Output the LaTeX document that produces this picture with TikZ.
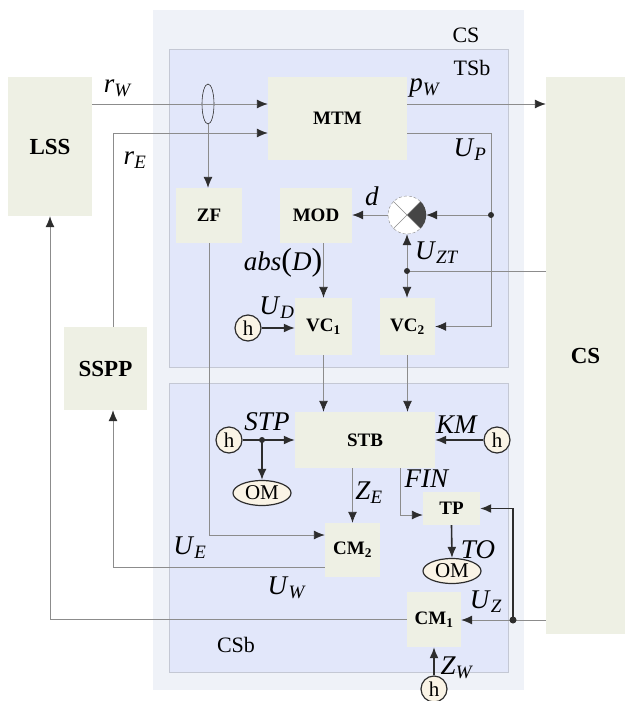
\documentclass[tikz,border=0pt]{standalone}
\usepackage{fontspec}
\setmainfont{Liberation Serif}
\usetikzlibrary{arrows.meta,shapes.geometric}
\definecolor{outbg}{RGB}{239,242,248}
\definecolor{regbg}{RGB}{226,231,250}
\definecolor{regln}{RGB}{196,200,212}
\definecolor{boxfill}{RGB}{238,240,228}
\definecolor{lngray}{RGB}{140,140,140}
\definecolor{lndark}{RGB}{45,45,45}
\definecolor{hfill}{RGB}{250,244,230}
\definecolor{quad}{RGB}{70,70,70}
\newcommand{\sg}[2]{\textit{#1}\textsubscript{\textit{#2}}}

\begin{document}
\begin{tikzpicture}[x=1pt,y=-1pt]
\tikzset{
  RG/.style={draw=regln,fill=regbg,line width=0.6pt},
  BX/.style={fill=boxfill,rectangle,inner sep=0pt,font=\fontsize{19}{22}\selectfont\bfseries},
  BB/.style={BX,font=\fontsize{23}{26}\selectfont\bfseries},
  HC/.style={draw=lndark,fill=hfill,circle,line width=1.2pt,minimum size=26pt,inner sep=0pt,font=\fontsize{21}{22}\selectfont},
  OM/.style={draw=lndark,fill=hfill,ellipse,line width=1.2pt,minimum width=58pt,minimum height=25pt,inner sep=0pt,font=\fontsize{21}{22}\selectfont},
  FL/.style={-{Latex[length=11pt,width=9pt,color=lndark]},lngray,line width=0.9pt},
  FD/.style={-{Latex[length=11pt,width=9pt]},lndark,line width=1.6pt},
  LN/.style={lngray,line width=0.9pt},
  lb/.style={font=\fontsize{27}{30}\selectfont,inner sep=0pt},
  rl/.style={font=\fontsize{22}{25}\selectfont,inner sep=0pt},
  dot/.style={fill=lndark},
}
\useasboundingbox (0,0) rectangle (625,701);

\fill[outbg] (153,10) rectangle (524,690);
\draw[RG] (169,49) rectangle (508,367);
\draw[RG] (169,383) rectangle (508,672);

\node[rl](lcs)  at (466,35){CS};
\node[rl](ltsb) at (472,68){TSb};
\node[rl](lcsb) at (236,645){CSb};

\node[BB,minimum width=84pt,minimum height=139pt](lss)  at (50,146.5){LSS};
\node[BB,minimum width=83pt,minimum height=83pt](sspp)  at (105.5,368.5){SSPP};
\node[BB,minimum width=79pt,minimum height=557pt](csr)  at (585.5,355.5){CS};
\node[BX,minimum width=139pt,minimum height=83pt](mtm)  at (337.5,118.5){MTM};
\node[BX,minimum width=66pt,minimum height=55pt](zf)    at (209,215.5){ZF};
\node[BX,minimum width=72pt,minimum height=55pt](mod)   at (316,215.5){MOD};
\node[BX,minimum width=57pt,minimum height=57pt](vc1)   at (323.5,326.5){VC\textsubscript{1}};
\node[BX,minimum width=55pt,minimum height=57pt](vc2)   at (407.5,326.5){VC\textsubscript{2}};
\node[BX,minimum width=140pt,minimum height=56pt](stb)  at (365,440){STB};
\node[BX,minimum width=55pt,minimum height=54pt](cm2)   at (352.5,550){CM\textsubscript{2}};
\node[BX,minimum width=57pt,minimum height=33pt](tp)    at (451.5,508.5){TP};
\node[BX,minimum width=54pt,minimum height=55pt](cm1)   at (434,619.5){CM\textsubscript{1}};

\node[HC](hd)   at (248,328){h};
\node[HC](hstp) at (229,440){h};
\node[HC](hkm)  at (497,440){h};
\node[HC](hzw)  at (434,689){h};
\node[OM](om1)  at (262,493){OM};
\node[OM](om2)  at (452,571){OM};

\node[circle,draw=lngray,densely dashed,fill=white,minimum size=38pt,inner sep=0pt](sum) at (407,215){};
\fill[quad] (sum.center)--(sum.north east) arc[start angle=45,end angle=-45,radius=19pt]--cycle;
\draw[lngray,line width=0.6pt] (sum.north west)--(sum.south east) (sum.north east)--(sum.south west);

\coordinate(rec) at (113,133);
\coordinate(up)  at (491,133);
\coordinate(dj)  at (491,215);
\coordinate(zt)  at (407,271);
\coordinate(ue)  at (209,535);
\coordinate(sp)  at (262,440);
\coordinate(fn)  at (400,515);
\coordinate(uz)  at (513,620);
\coordinate(uw)  at (113,567);

\node[draw=lndark,ellipse,line width=0.6pt,minimum width=12pt,minimum height=40pt,inner sep=0pt](ring) at (208,104){};

\draw[FL](lss.east |- ring)--(mtm.west |- ring);
\draw[FL](sspp.north -| rec)--(rec)--(rec -| mtm.west);
\draw[FL](ring.south)--(ring.south |- zf.north);
\draw[FL](mtm.east |- ring)--(csr.west |- ring);
\draw[FL](mtm.east |- up)--(up)--(up |- vc2.east)--(vc2.east);
\draw[FL](dj)--(sum.east);
\draw[FL](sum.west)--(sum.west -| mod.east);
\draw[LN](csr.west |- zt)--(zt);
\draw[FL](zt)--(sum.south);
\draw[FL](zt)--(zt |- vc2.north);
\draw[FL](mod.south -| vc1.north)--(vc1.north);
\draw[FD](hd.east)--(hd.east -| vc1.west);
\draw[FL](vc1.south)--(vc1.south |- stb.north);
\draw[FL](vc2.south)--(vc2.south |- stb.north);
\draw[FL](zf.south)--(zf.south |- ue)--(ue -| cm2.west);
\draw[FD](hstp.east)--(hstp.east -| stb.west);
\draw[FD](sp)--(om1.north);
\draw[FD](hkm.west)--(hkm.west -| stb.east);
\draw[FL](stb.south -| cm2.north)--(cm2.north);
\draw[FL](stb.south -| fn)--(fn)--(fn -| tp.west);
\draw[FD](tp.south)--(om2.north);
\draw[FL](csr.west |- uz)--(cm1.east |- uz);
\draw[FD](uz)--(uz |- tp.east)--(tp.east);
\draw[FL](cm1.west)--(cm1.west -| lss.south)--(lss.south);
\draw[FL](cm2.west |- uw)--(uw)--(uw |- sspp.south);
\draw[FD](hzw.north)--(cm1.south);

\fill[dot] (dj) circle (3pt) (zt) circle (3pt) (sp) circle (3pt) (uz) circle (3.5pt);

\node[lb](lrw)  at (118,88){\sg{r}{W}};
\node[lb](lre)  at (135,160){\sg{r}{E}};
\node[lb](lpw)  at (425,88){\sg{p}{W}};
\node[lb](lup)  at (470,150){\sg{U}{P}};
\node[lb](ld)   at (372,196){\textit{d}};
\node[lb](labs) at (283,263){\textit{abs}{\fontsize{32}{32}\selectfont(}\textit{D}{\fontsize{32}{32}\selectfont)}};
\node[lb](lzt)  at (437,253){\sg{U}{ZT}};
\node[lb](lud)  at (277,308){\sg{U}{D}};
\node[lb](lstp) at (267,422){\textit{STP}};
\node[lb](lkm)  at (457,425){\textit{KM}};
\node[lb](lze)  at (369,493){\sg{Z}{E}};
\node[lb](lfin) at (427,479){\textit{FIN}};
\node[lb](lto)  at (478,550){\textit{TO}};
\node[lb](lue)  at (190,548){\sg{U}{E}};
\node[lb](luw)  at (287,588){\sg{U}{W}};
\node[lb](luz)  at (486,602){\sg{U}{Z}};
\node[lb](lzw)  at (457,668){\sg{Z}{W}};
\end{tikzpicture}
\end{document}
